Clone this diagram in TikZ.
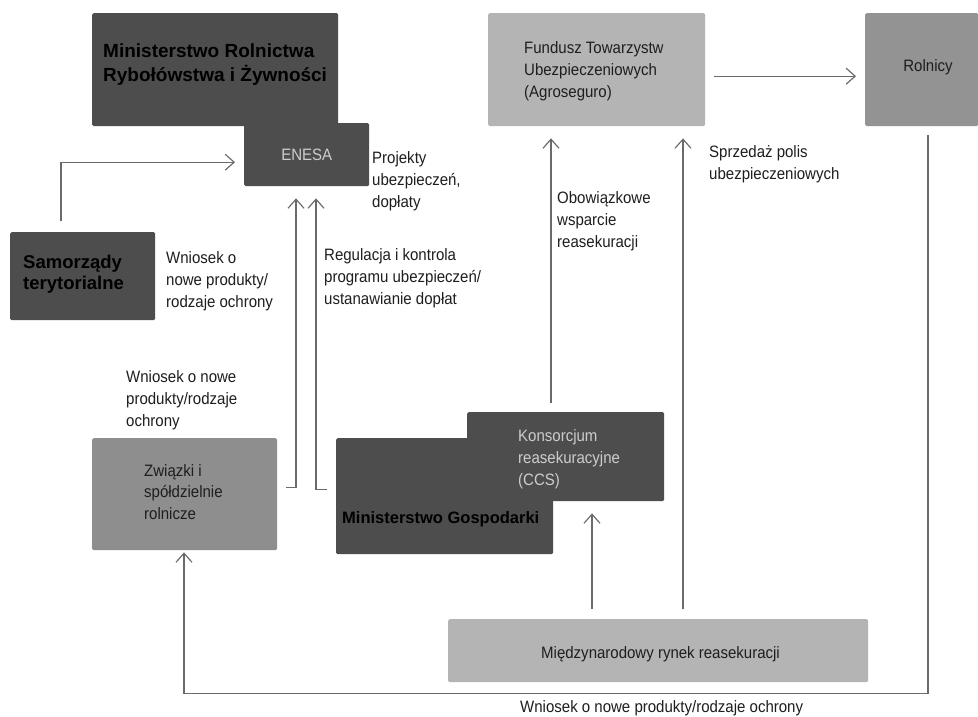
\documentclass[tikz,border=0pt]{standalone}
\usepackage{fontspec}
\setmainfont{Liberation Sans}[FakeStretch=0.91]
\newfontfamily\bfam{Liberation Sans}
\usetikzlibrary{arrows.meta,calc}
\definecolor{dk}{HTML}{4D4D4D}
\definecolor{md}{HTML}{8E8E8E}
\definecolor{rl}{HTML}{939393}
\definecolor{lt}{HTML}{B4B4B4}
\definecolor{ln}{HTML}{6A6A6A}
\definecolor{txt}{HTML}{1E1E1E}
\definecolor{ltxt}{HTML}{CDCDCD}
\newcommand\fs{\rule{0pt}{16pt}}
\begin{document}
\begin{tikzpicture}[x=1pt,y=-1pt,
  box/.style={rectangle, inner sep=0pt, draw=none, rounded corners=1.5pt, anchor=north west},
  lbl/.style={anchor=north west, inner sep=0pt, align=left, text=txt, font=\fontsize{16.5}{22}\selectfont},
  bl/.style={anchor=north west, inner sep=0pt, align=left, text=black, font=\bfam\bfseries\fontsize{19}{24}\selectfont},
  arr/.style={draw=ln, line width=1.15pt, -{Straight Barb[length=9pt,width=16pt,line width=1.15pt]}}]
\fill[white] (0,0) rectangle (978,717);
\useasboundingbox (0,0) rectangle (978,717);
% boxes
\node[box, fill=dk, minimum width=246pt, minimum height=113pt] (mr) at (92,13) {};
\node[box, fill=dk, minimum width=125pt, minimum height=63pt, text=ltxt, font=\fontsize{16.5}{20}\selectfont] (enesa) at (244,123) {ENESA};
\node[box, fill=dk, minimum width=145pt, minimum height=88pt] (sam) at (10,232) {};
\node[box, fill=md, minimum width=185pt, minimum height=112pt] (zw) at (92,438) {};
\node[box, fill=dk, minimum width=217pt, minimum height=116pt] (mg) at (336,438) {};
\node[box, fill=dk, minimum width=197pt, minimum height=89pt] (ccs) at (467,412) {};
\node[box, fill=lt, minimum width=217pt, minimum height=113pt] (fund) at (488,13) {};
\node[box, fill=rl, minimum width=113pt, minimum height=113pt] (rol) at (865,13) {};
\node[box, fill=lt, minimum width=420pt, minimum height=63pt] (mrr) at (448,619) {};
% box texts
\node[bl] (mrt) at (103,41) {\fs Ministerstwo Rolnictwa\\Rybołówstwa i Żywności};
\node[bl, font=\bfam\bfseries\fontsize{18.5}{21}\selectfont] (samt) at (23,252) {\fs Samorządy\\terytorialne};
\node[lbl, font=\fontsize{16.5}{21.5}\selectfont] (zwt) at (144,460) {\fs Związki i\\spółdzielnie\\rolnicze};
\node[bl, font=\bfam\bfseries\fontsize{16.5}{20}\selectfont] (mgt) at (342,507) {\fs Ministerstwo Gospodarki};
\node[lbl, text=ltxt] (ccst) at (518,425) {\fs Konsorcjum\\reasekuracyjne\\(CCS)};
\node[lbl] (fundt) at (524,37) {\fs Fundusz Towarzystw\\Ubezpieczeniowych\\(Agroseguro)};
\node[anchor=base, inner sep=0pt, text=txt, font=\fontsize{16.5}{20}\selectfont] (rolt) at (928,72) {Rolnicy};
\node[anchor=base west, inner sep=0pt, text=txt, font=\fontsize{16.5}{20}\selectfont] (mrrt) at (541,658) {Międzynarodowy rynek reasekuracji};
% free labels
\node[lbl] (proj) at (372,147) {\fs Projekty\\ubezpieczeń,\\dopłaty};
\node[lbl] (wn1) at (166,247) {\fs Wniosek o\\nowe produkty/\\rodzaje ochrony};
\node[lbl] (reg) at (324,244) {\fs Regulacja i kontrola\\programu ubezpieczeń/\\ustanawianie dopłat};
\node[lbl] (wn2) at (126,366) {\fs Wniosek o nowe\\produkty/rodzaje\\ochrony};
\node[lbl] (sprz) at (709,141) {\fs Sprzedaż polis\\ubezpieczeniowych};
\node[lbl] (obow) at (557,187) {\fs Obowiązkowe\\wsparcie\\reasekuracji};
\node[anchor=base west, inner sep=0pt, text=txt, font=\fontsize{16.5}{20}\selectfont] (wn3) at (520,712) {Wniosek o nowe produkty/rodzaje ochrony};
% connectors
\draw[arr] ($(sam.north west)+(51,-11)$) |- ($(enesa.west)+(-9,7.5)$);
\draw[arr] ($(zw.east)+(9,-7)$) -| ($(enesa.south west)+(52,12)$);
\draw[arr] ($(mg.west)+(-9,-7)$) -| ($(enesa.south west)+(72,12)$);
\draw[arr] ($(fund.east)+(9,6.5)$) -- ($(rol.west)+(-9,6.5)$);
\draw[arr] ($(ccs.north west)+(84,-9)$) -- ($(fund.south west)+(63,12)$);
\draw[arr] ($(mrr.north west)+(144,-10)$) -- ($(ccs.south west)+(125,12)$);
\draw[arr] ($(mrr.north west)+(235,-10)$) -- ($(fund.south west)+(195,12)$);
\draw[arr] ($(rol.south west)+(63,9)$) |- ($(mrr.south)+(0,11)$) -| ($(zw.south west)+(92,2)$);
\end{tikzpicture}
\end{document}
